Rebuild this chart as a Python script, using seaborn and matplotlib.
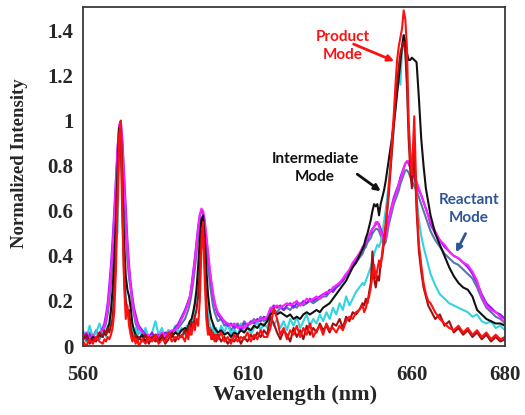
import numpy as np
import pandas as pd
import matplotlib
matplotlib.use("Agg")
import matplotlib.pyplot as plt
import seaborn as sns

# wavelength sampling grid (nm), finer around the emission lines
wavelength = np.concatenate([
    np.arange(560, 566, 1.0), np.arange(566, 577, 0.5), np.arange(577, 591, 1.0),
    np.arange(591, 601, 0.5), np.arange(601, 646, 1.0), np.arange(645.5, 664, 0.5),
    np.arange(664, 681, 1.0),
])

# normalized intensities, one list per spectrum
violet = [0.06, 0.03, 0.05, 0.02, 0.04, 0.05,
          0.08, 0.10, 0.14, 0.19, 0.27, 0.36, 0.47, 0.60, 0.74, 0.88, 0.98, 1.00, 0.91, 0.76, 0.61, 0.47, 0.36, 0.28, 0.22, 0.17, 0.14, 0.11,
          0.09, 0.07, 0.05, 0.04, 0.06, 0.03, 0.05, 0.04, 0.06, 0.05, 0.06, 0.08, 0.10, 0.13,
          0.16, 0.18, 0.20, 0.22, 0.27, 0.33, 0.39, 0.46, 0.53, 0.58, 0.60, 0.59, 0.55, 0.48, 0.41, 0.34, 0.28, 0.23, 0.19, 0.16,
          0.14, 0.12, 0.11, 0.09, 0.10, 0.08, 0.09, 0.07, 0.10, 0.09, 0.11, 0.10, 0.12, 0.11, 0.13, 0.12, 0.16, 0.18, 0.17, 0.18,
          0.16, 0.18, 0.19, 0.17, 0.19, 0.18, 0.20, 0.19, 0.21, 0.20, 0.21, 0.22, 0.23, 0.23, 0.25, 0.24, 0.26, 0.28, 0.29, 0.32,
          0.33, 0.36, 0.38, 0.41, 0.43,
          0.44, 0.46, 0.47, 0.49, 0.50, 0.52, 0.53, 0.54, 0.55, 0.54, 0.52, 0.50, 0.48, 0.49, 0.53, 0.57, 0.60, 0.63, 0.66, 0.68,
          0.70, 0.72, 0.75, 0.77, 0.79, 0.81, 0.82, 0.81, 0.79, 0.77, 0.75, 0.72, 0.69, 0.67, 0.64, 0.61, 0.58,
          0.54, 0.50, 0.47, 0.44, 0.42, 0.40, 0.39, 0.37, 0.35, 0.32, 0.28, 0.23, 0.19, 0.17, 0.15, 0.14, 0.12]

magenta = [0.04, 0.06, 0.03, 0.05, 0.03, 0.06,
           0.07, 0.09, 0.12, 0.17, 0.24, 0.33, 0.44, 0.57, 0.72, 0.87, 0.98, 0.99, 0.89, 0.73, 0.57, 0.44, 0.34, 0.26, 0.20, 0.15, 0.12, 0.10,
           0.08, 0.06, 0.04, 0.05, 0.03, 0.05, 0.04, 0.06, 0.04, 0.06, 0.07, 0.07, 0.09, 0.12,
           0.15, 0.17, 0.19, 0.22, 0.26, 0.32, 0.38, 0.45, 0.52, 0.58, 0.61, 0.60, 0.56, 0.49, 0.42, 0.35, 0.29, 0.24, 0.20, 0.17,
           0.15, 0.13, 0.11, 0.10, 0.09, 0.10, 0.08, 0.09, 0.08, 0.10, 0.10, 0.11, 0.11, 0.12, 0.12, 0.13, 0.17, 0.17, 0.18, 0.17,
           0.18, 0.19, 0.18, 0.19, 0.20, 0.18, 0.19, 0.21, 0.20, 0.21, 0.22, 0.21, 0.23, 0.24, 0.24, 0.26, 0.27, 0.28, 0.30, 0.32,
           0.34, 0.37, 0.39, 0.41, 0.44,
           0.45, 0.46, 0.48, 0.49, 0.51, 0.52, 0.53, 0.55, 0.55, 0.53, 0.51, 0.49, 0.47, 0.48, 0.52, 0.56, 0.59, 0.62, 0.65, 0.67,
           0.69, 0.72, 0.74, 0.76, 0.79, 0.81, 0.82, 0.82, 0.80, 0.78, 0.76, 0.73, 0.70, 0.67, 0.64, 0.61, 0.58,
           0.55, 0.51, 0.47, 0.45, 0.42, 0.40, 0.39, 0.37, 0.36, 0.33, 0.29, 0.22, 0.18, 0.16, 0.15, 0.13, 0.10]

steel = [0.05, 0.02, 0.06, 0.04, 0.07, 0.03,
         0.06, 0.08, 0.10, 0.14, 0.20, 0.28, 0.38, 0.50, 0.66, 0.82, 0.95, 0.96, 0.84, 0.66, 0.50, 0.38, 0.30, 0.25, 0.18, 0.14, 0.10, 0.08,
         0.06, 0.05, 0.07, 0.03, 0.05, 0.04, 0.06, 0.03, 0.05, 0.07, 0.05, 0.06, 0.08, 0.10,
         0.12, 0.14, 0.16, 0.19, 0.23, 0.28, 0.34, 0.41, 0.48, 0.54, 0.57, 0.56, 0.51, 0.44, 0.36, 0.29, 0.23, 0.18, 0.15, 0.13,
         0.11, 0.12, 0.09, 0.10, 0.07, 0.09, 0.10, 0.08, 0.11, 0.09, 0.10, 0.12, 0.10, 0.13, 0.11, 0.12, 0.15, 0.16, 0.15, 0.17,
         0.16, 0.17, 0.16, 0.18, 0.17, 0.19, 0.18, 0.19, 0.20, 0.19, 0.20, 0.21, 0.22, 0.22, 0.24, 0.25, 0.26, 0.27, 0.29, 0.31,
         0.33, 0.35, 0.37, 0.39, 0.41,
         0.43, 0.44, 0.46, 0.47, 0.48, 0.50, 0.51, 0.52, 0.52, 0.51, 0.49, 0.47, 0.45, 0.46, 0.50, 0.54, 0.57, 0.60, 0.63, 0.65,
         0.67, 0.69, 0.72, 0.74, 0.76, 0.78, 0.78, 0.77, 0.75, 0.73, 0.71, 0.69, 0.66, 0.63, 0.60, 0.57, 0.54,
         0.51, 0.47, 0.44, 0.41, 0.39, 0.37, 0.36, 0.34, 0.32, 0.30, 0.26, 0.21, 0.17, 0.15, 0.13, 0.12, 0.10]

black = [0.03, 0.05, 0.02, 0.04, 0.03, 0.05,
         0.04, 0.06, 0.05, 0.08, 0.10, 0.16, 0.25, 0.38, 0.55, 0.78, 0.97, 0.96, 0.72, 0.46, 0.31, 0.25, 0.22, 0.17, 0.10, 0.07, 0.05, 0.04,
         0.03, 0.05, 0.02, 0.04, 0.03, 0.05, 0.02, 0.04, 0.03, 0.05, 0.04, 0.06, 0.05, 0.07,
         0.08, 0.07, 0.09, 0.11, 0.12, 0.15, 0.19, 0.25, 0.35, 0.47, 0.56, 0.58, 0.48, 0.34, 0.23, 0.16, 0.12, 0.10, 0.08, 0.07,
         0.06, 0.07, 0.05, 0.06, 0.04, 0.06, 0.05, 0.07, 0.06, 0.08, 0.07, 0.09, 0.08, 0.10, 0.09, 0.11, 0.14, 0.15, 0.14, 0.15,
         0.14, 0.13, 0.14, 0.12, 0.13, 0.12, 0.14, 0.15, 0.14, 0.15, 0.16, 0.15, 0.17, 0.18, 0.19, 0.21, 0.23, 0.25, 0.27, 0.29,
         0.32, 0.35, 0.37, 0.40, 0.43,
         0.45, 0.48, 0.50, 0.53, 0.56, 0.60, 0.63, 0.62, 0.63, 0.58, 0.63, 0.66, 0.69, 0.73, 0.78, 0.83, 0.88, 0.93, 0.99, 1.05,
         1.12, 1.19, 1.26, 1.33, 1.38, 1.35, 1.30, 1.27, 1.27, 1.28, 1.27, 1.26, 1.10, 0.92, 0.80, 0.70, 0.64,
         0.58, 0.50, 0.45, 0.40, 0.35, 0.31, 0.28, 0.26, 0.25, 0.22, 0.16, 0.14, 0.12, 0.11, 0.10, 0.10, 0.09]

red = [0.02, 0.00, 0.03, 0.01, 0.04, 0.02,
       0.01, 0.03, 0.02, 0.04, 0.03, 0.05, 0.08, 0.15, 0.33, 0.64, 0.94, 1.00, 0.62, 0.27, 0.12, 0.18, 0.09, 0.05, 0.02, 0.04, 0.01, 0.03,
       0.00, 0.03, 0.01, 0.04, 0.02, 0.05, 0.01, 0.03, 0.02, 0.06, 0.02, 0.04, 0.03, 0.05,
       0.02, 0.06, 0.03, 0.08, 0.05, 0.10, 0.07, 0.12, 0.09, 0.20, 0.42, 0.55, 0.30, 0.12, 0.05, 0.08, 0.03, 0.06, 0.02, 0.05,
       0.03, 0.06, 0.02, 0.04, 0.01, 0.05, 0.02, 0.04, 0.03, 0.06, 0.02, 0.05, 0.03, 0.07, 0.04, 0.04, 0.08, 0.17, 0.12, 0.05,
       0.08, 0.03, 0.07, 0.05, 0.09, 0.04, 0.08, 0.05, 0.10, 0.04, 0.07, 0.09, 0.05, 0.10, 0.07, 0.08, 0.06, 0.09, 0.07, 0.11,
       0.13, 0.12, 0.15, 0.16, 0.18,
       0.15, 0.17, 0.20, 0.22, 0.26, 0.31, 0.36, 0.30, 0.34, 0.38, 0.35, 0.42, 0.48, 0.54, 0.61, 0.71, 0.81, 0.93, 1.03, 1.16,
       1.27, 1.33, 1.37, 1.41, 1.49, 1.45, 1.32, 1.00, 0.84, 0.76, 1.02, 0.65, 0.45, 0.36, 0.28, 0.23, 0.20,
       0.19, 0.15, 0.12, 0.10, 0.08, 0.07, 0.09, 0.06, 0.08, 0.05, 0.07, 0.04, 0.06, 0.03, 0.05, 0.03, 0.04]

darkred = [0.03, 0.05, 0.01, 0.03, 0.02, 0.06,
           0.04, 0.07, 0.05, 0.08, 0.06, 0.09, 0.12, 0.22, 0.42, 0.70, 0.92, 0.90, 0.55, 0.30, 0.20, 0.14, 0.16, 0.08, 0.05, 0.03, 0.05, 0.02,
           0.04, 0.02, 0.05, 0.01, 0.04, 0.02, 0.03, 0.05, 0.01, 0.03, 0.06, 0.02, 0.05, 0.04,
           0.07, 0.04, 0.09, 0.05, 0.11, 0.08, 0.13, 0.16, 0.22, 0.33, 0.50, 0.52, 0.36, 0.18, 0.09, 0.05, 0.07, 0.03, 0.05, 0.02,
           0.05, 0.02, 0.04, 0.01, 0.03, 0.02, 0.05, 0.01, 0.04, 0.02, 0.05, 0.03, 0.06, 0.04, 0.07, 0.05, 0.13, 0.10, 0.06, 0.03,
           0.07, 0.05, 0.02, 0.08, 0.04, 0.07, 0.03, 0.09, 0.05, 0.08, 0.06, 0.10, 0.07, 0.09, 0.06, 0.10, 0.09, 0.12, 0.08, 0.13,
           0.11, 0.15, 0.14, 0.16, 0.19,
           0.18, 0.21, 0.19, 0.24, 0.28, 0.42, 0.30, 0.26, 0.31, 0.29, 0.37, 0.40, 0.46, 0.52, 0.60, 0.68, 0.78, 0.88, 0.98, 1.08,
           1.17, 1.24, 1.30, 1.33, 1.35, 1.30, 1.15, 0.92, 0.78, 0.70, 0.88, 0.60, 0.42, 0.33, 0.26, 0.22, 0.18,
           0.16, 0.12, 0.14, 0.09, 0.11, 0.06, 0.08, 0.05, 0.07, 0.04, 0.06, 0.03, 0.05, 0.02, 0.04, 0.02, 0.03]

cyan = [0.07, 0.03, 0.09, 0.04, 0.06, 0.10,
        0.05, 0.08, 0.04, 0.09, 0.07, 0.12, 0.18, 0.30, 0.48, 0.50, 0.88, 0.95, 0.70, 0.38, 0.22, 0.15, 0.12, 0.07, 0.10, 0.05, 0.08, 0.04,
        0.07, 0.04, 0.08, 0.03, 0.06, 0.11, 0.05, 0.08, 0.03, 0.07, 0.05, 0.09, 0.06, 0.08,
        0.05, 0.09, 0.06, 0.11, 0.08, 0.14, 0.18, 0.22, 0.30, 0.38, 0.48, 0.50, 0.40, 0.24, 0.14, 0.10, 0.06, 0.09, 0.05, 0.08,
        0.04, 0.09, 0.06, 0.10, 0.05, 0.08, 0.04, 0.10, 0.06, 0.09, 0.05, 0.08, 0.11, 0.07, 0.10, 0.08, 0.13, 0.09, 0.12, 0.08,
        0.11, 0.07, 0.12, 0.09, 0.13, 0.08, 0.11, 0.14, 0.09, 0.12, 0.10, 0.14, 0.11, 0.15, 0.12, 0.17, 0.14, 0.19, 0.16, 0.22,
        0.18, 0.21, 0.24, 0.26, 0.28,
        0.27, 0.29, 0.31, 0.33, 0.35, 0.38, 0.41, 0.43, 0.45, 0.44, 0.46, 0.50, 0.55, 0.60, 0.66, 0.73, 0.80, 0.88, 0.97, 1.06,
        1.15, 1.21, 1.16, 1.32, 1.38, 1.33, 1.18, 0.98, 0.86, 0.80, 0.78, 0.66, 0.56, 0.49, 0.44, 0.40, 0.36,
        0.32, 0.27, 0.23, 0.21, 0.19, 0.18, 0.17, 0.16, 0.15, 0.13, 0.14, 0.11, 0.10, 0.11, 0.08, 0.09, 0.07]

# drawing order = list order (last one on top)
spectra = {
    "reactant_c": steel,
    "product_c": cyan,
    "reactant_b": violet,
    "reactant_a": magenta,
    "intermediate": black,
    "product_b": darkred,
    "product_a": red,
}
palette = {
    "reactant_c": "#5577aa",
    "product_c": "#33d3e3",
    "reactant_b": "#7f1fff",
    "reactant_a": "#ff22ff",
    "intermediate": "#111111",
    "product_b": "#a01010",
    "product_a": "#ff1010",
}

ytick_vals = [0, 0.2, 0.4, 0.6, 0.8, 1.0, 1.2, 1.4]
ytick_labels = ["0", "0.2", "0.4", "0.6", "0.8", "1", "1.2", "1.4"]
xtick_vals = [560, 610, 660, 680]
xtick_labels = ["560", "610", "660", "680"]

frames = []
for name, vals in spectra.items():
    if len(vals) != len(wavelength):
        raise ValueError(f"{name}: {len(vals)} values vs {len(wavelength)} wavelengths")
    frames.append(pd.DataFrame({"wavelength": wavelength, "intensity": vals, "spectrum": name}))
df = pd.concat(frames, ignore_index=True)

sns.set_style("white")
plt.rcParams["font.family"] = ["Liberation Serif", "DejaVu Serif"]

fig = plt.figure(figsize=(5.25, 4.15), dpi=100)
ax = fig.add_axes([83 / 525, 69 / 415, 422 / 525, 339 / 415])

sns.lineplot(data=df, x="wavelength", y="intensity", hue="spectrum",
             hue_order=list(spectra.keys()), palette=palette,
             estimator=None, legend=False, linewidth=1.5, ax=ax)

# the printed axis is stretched beyond 660 nm, so use a piecewise scale
wl_knots = [560, 660, 680]
axis_knots = [560, 660, 688.3]
ax.set_xscale("function", functions=(lambda x: np.interp(x, wl_knots, axis_knots),
                                      lambda x: np.interp(x, axis_knots, wl_knots)))
ax.set_xlim(560, 680)
ax.set_ylim(0, 1.505)
ax.set_xticks(xtick_vals, xtick_labels)
ax.set_yticks(ytick_vals, ytick_labels)
ax.tick_params(direction="in", length=4, width=1, labelsize=15, color="#444444")
ax.tick_params(axis="x", pad=14)
ax.tick_params(axis="y", pad=7)
for lab in ax.get_xticklabels() + ax.get_yticklabels():
    lab.set_fontweight("bold")
for sp in ax.spines.values():
    sp.set_color("#3a3a3a")
    sp.set_linewidth(1.3)

ax.set_xlabel("Wavelength (nm)", fontsize=16, fontweight="bold")
ax.set_ylabel("Normalized Intensity", fontsize=13.5, fontweight="bold")
ax.xaxis.set_label_coords(0.502, -0.115)
ax.yaxis.set_label_coords(-0.13, 0.54)

# mode annotations
note_font = ["Lato", "DejaVu Sans"]
ax.text(639.0, 1.33, "Product\nMode", color="#ff1010", fontsize=11, fontweight="bold",
        family=note_font, ha="center", va="center", linespacing=1.35)
ax.annotate("", xy=(655.4, 1.26), xytext=(641.5, 1.345),
            arrowprops=dict(arrowstyle="-|>", color="#ff1010", lw=2, mutation_scale=9))
ax.text(630.5, 0.791, "Intermediate\nMode", color="#111111", fontsize=11, fontweight="bold",
        family=note_font, ha="center", va="center", linespacing=1.35)
ax.annotate("", xy=(651.2, 0.68), xytext=(642.7, 0.77),
            arrowprops=dict(arrowstyle="-|>", color="#111111", lw=2, mutation_scale=9))
ax.text(672.3, 0.607, "Reactant\nMode", color="#2f5597", fontsize=11, fontweight="bold",
        family=note_font, ha="center", va="center", linespacing=1.35)
ax.annotate("", xy=(669.2, 0.405), xytext=(671.8, 0.51),
            arrowprops=dict(arrowstyle="-|>", color="#2f5597", lw=2, mutation_scale=9))

fig.savefig("out.png", dpi=100)
